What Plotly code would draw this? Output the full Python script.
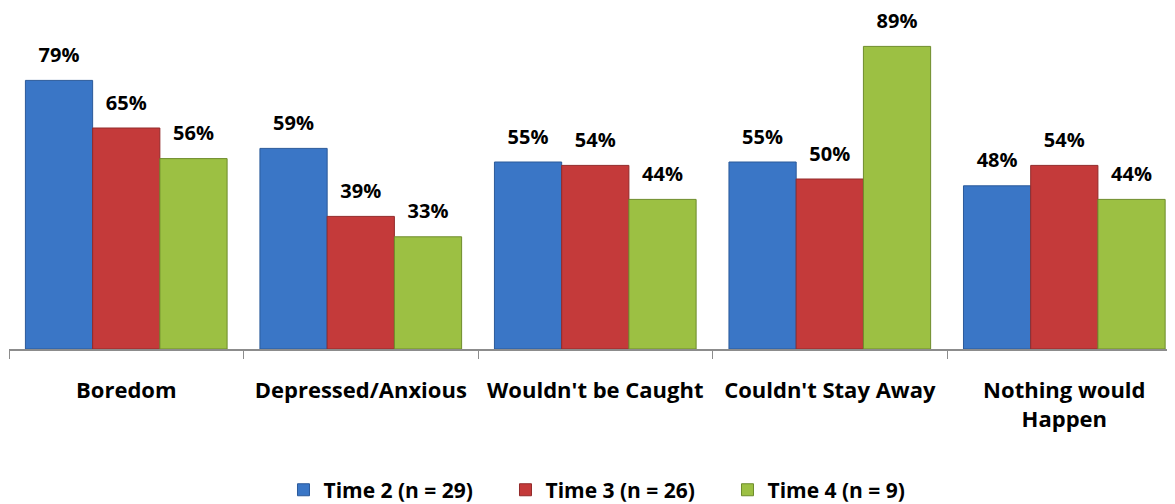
import plotly.graph_objects as go

categories = ['Boredom', 'Depressed/Anxious', "Wouldn't be Caught", "Couldn't Stay Away", 'Nothing would<br>Happen']
series_names = ['Time 2 (n = 29)', 'Time 3 (n = 26)', 'Time 4 (n = 9)']
time2 = [79, 59, 55, 55, 48]
time3 = [65, 39, 54, 50, 54]
time4 = [56, 33, 44, 89, 44]

colors = ['#3a76c6', '#c43a3a', '#9cc043']
edges = ['#2b5a9a', '#922a2a', '#6e8c2c']
FONT = 'Open Sans'

fig = go.Figure()
for name, vals, col, edge in zip(series_names, [time2, time3, time4], colors, edges):
    fig.add_trace(go.Bar(
        x=categories, y=vals, name=name, offsetgroup=name,
        marker=dict(color=col, line=dict(color=edge, width=1)),
    ))
# value labels, grouped alongside the bars
for name, vals in zip(series_names, [time2, time3, time4]):
    fig.add_trace(go.Scatter(
        x=categories, y=vals, mode='markers+text', offsetgroup=name,
        text=[f'{v}%' for v in vals], textposition='top center',
        marker=dict(size=20, opacity=0), showlegend=False, hoverinfo='skip',
        cliponaxis=False,
        textfont=dict(family=FONT, size=20, color='black', weight='bold'),
    ))

# page body has an 8px margin, so the figure is 8px smaller than the window
fig.update_layout(
    width=1167, height=496,
    barmode='group', bargap=0.14, bargroupgap=0,
    scattermode='group', scattergap=0.14,
    plot_bgcolor='white', paper_bgcolor='white',
    margin=dict(l=1, r=0, t=1, b=155, autoexpand=False),
    font=dict(family=FONT, size=20, color='black', weight='bold'),
    legend=dict(orientation='h', x=0.521, xanchor='center', y=-0.415, yanchor='middle',
                font=dict(family=FONT, size=21, color='black', weight='bold'),
                entrywidth=177, entrywidthmode='pixels', itemwidth=30,
                traceorder='normal'),
)
fig.update_xaxes(showline=True, linecolor='#8c8c8c', linewidth=1.5,
                 range=[-0.5, 4.472], automargin=False,
                 ticks='outside', tickson='boundaries', ticklen=8, tickcolor='#8c8c8c',
                 ticklabelstandoff=21,
                 tickfont=dict(family=FONT, size=22, color='black', weight='bold'))
fig.update_yaxes(range=[0, 100], visible=False, showgrid=False, automargin=False)

fig.write_html('out.html')
